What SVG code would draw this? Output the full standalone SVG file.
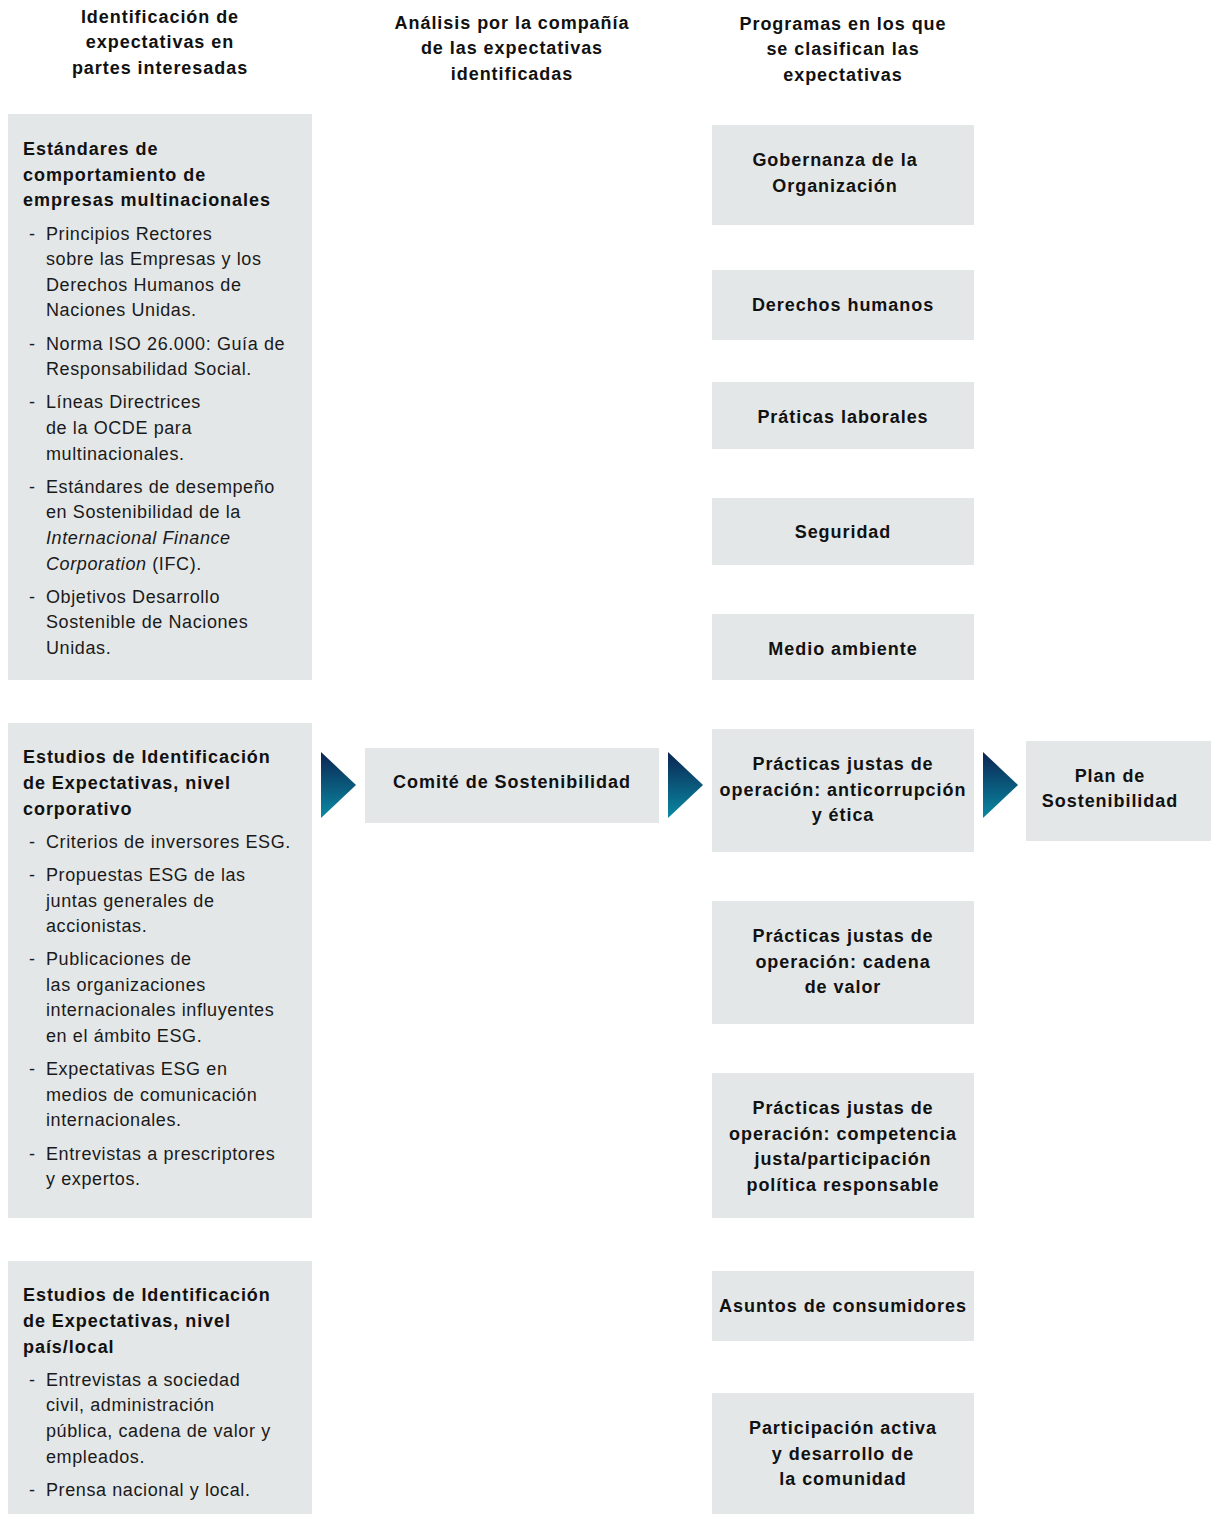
<svg xmlns="http://www.w3.org/2000/svg" width="1211" height="1514" viewBox="0 0 1211 1514">
<defs>
<linearGradient id="g" x1="0" y1="0" x2="0" y2="1">
<stop offset="0" stop-color="#0b2452"/>
<stop offset="1" stop-color="#0a8aa3"/>
</linearGradient>
<style>
.box{fill:#e4e7e8}
.h{font-family:"Liberation Sans",Arial,sans-serif;font-weight:bold;font-size:18px;letter-spacing:0.95px;fill:#111}
.c{text-anchor:middle}
.t{font-family:"Liberation Sans",Arial,sans-serif;font-size:18px;letter-spacing:0.6px;fill:#1a1a1a}
</style>
</defs>
<rect width="1211" height="1514" fill="#fff"/>

<g id="headers">
<text class="h c" x="160" y="23">Identificación de</text>
<text class="h c" x="160" y="48">expectativas en</text>
<text class="h c" x="160" y="74">partes interesadas</text>
<text class="h c" x="512" y="29">Análisis por la compañía</text>
<text class="h c" x="512" y="54">de las expectativas</text>
<text class="h c" x="512" y="80">identificadas</text>
<text class="h c" x="843" y="30">Programas en los que</text>
<text class="h c" x="843" y="55">se clasifican las</text>
<text class="h c" x="843" y="81">expectativas</text>
</g>

<g id="estandares">
<rect class="box" x="8" y="114" width="304" height="566"/>
<text class="h" x="23" y="155">Estándares de</text>
<text class="h" x="23" y="181">comportamiento de</text>
<text class="h" x="23" y="206">empresas multinacionales</text>
<g class="t">
<text x="29" y="240">-</text><text x="46" y="240">Principios Rectores</text>
<text x="46" y="265">sobre las Empresas y los</text>
<text x="46" y="291">Derechos Humanos de</text>
<text x="46" y="316">Naciones Unidas.</text>
<text x="29" y="350">-</text><text x="46" y="350">Norma ISO 26.000: Guía de</text>
<text x="46" y="375">Responsabilidad Social.</text>
<text x="29" y="408">-</text><text x="46" y="408">Líneas Directrices</text>
<text x="46" y="434">de la OCDE para</text>
<text x="46" y="460">multinacionales.</text>
<text x="29" y="493">-</text><text x="46" y="493">Estándares de desempeño</text>
<text x="46" y="518">en Sostenibilidad de la</text>
<text x="46" y="544" font-style="italic">Internacional Finance</text>
<text x="46" y="570"><tspan font-style="italic">Corporation</tspan> (IFC).</text>
<text x="29" y="603">-</text><text x="46" y="603">Objetivos Desarrollo</text>
<text x="46" y="628">Sostenible de Naciones</text>
<text x="46" y="654">Unidas.</text>
</g>
</g>

<g id="corporativo">
<rect class="box" x="8" y="723" width="304" height="495"/>
<text class="h" x="23" y="763">Estudios de Identificación</text>
<text class="h" x="23" y="789">de Expectativas, nivel</text>
<text class="h" x="23" y="815">corporativo</text>
<g class="t">
<text x="29" y="848">-</text><text x="46" y="848">Criterios de inversores ESG.</text>
<text x="29" y="881">-</text><text x="46" y="881">Propuestas ESG de las</text>
<text x="46" y="907">juntas generales de</text>
<text x="46" y="932">accionistas.</text>
<text x="29" y="965">-</text><text x="46" y="965">Publicaciones de</text>
<text x="46" y="991">las organizaciones</text>
<text x="46" y="1016">internacionales influyentes</text>
<text x="46" y="1042">en el ámbito ESG.</text>
<text x="29" y="1075">-</text><text x="46" y="1075">Expectativas ESG en</text>
<text x="46" y="1101">medios de comunicación</text>
<text x="46" y="1126">internacionales.</text>
<text x="29" y="1160">-</text><text x="46" y="1160">Entrevistas a prescriptores</text>
<text x="46" y="1185">y expertos.</text>
</g>
</g>

<g id="local">
<rect class="box" x="8" y="1261" width="304" height="253"/>
<text class="h" x="23" y="1301">Estudios de Identificación</text>
<text class="h" x="23" y="1327">de Expectativas, nivel</text>
<text class="h" x="23" y="1353">país/local</text>
<g class="t">
<text x="29" y="1386">-</text><text x="46" y="1386">Entrevistas a sociedad</text>
<text x="46" y="1411">civil, administración</text>
<text x="46" y="1437">pública, cadena de valor y</text>
<text x="46" y="1463">empleados.</text>
<text x="29" y="1496">-</text><text x="46" y="1496">Prensa nacional y local.</text>
</g>
</g>

<g id="comite">
<rect class="box" x="365" y="748" width="294" height="75"/>
<text class="h c" x="512" y="788">Comité de Sostenibilidad</text>
</g>

<g id="gobernanza">
<rect class="box" x="712" y="125" width="262" height="100"/>
<text class="h c" x="835" y="166">Gobernanza de la</text>
<text class="h c" x="835" y="192">Organización</text>
</g>
<g id="derechos">
<rect class="box" x="712" y="270" width="262" height="70"/>
<text class="h c" x="843" y="311">Derechos humanos</text>
</g>
<g id="laborales">
<rect class="box" x="712" y="382" width="262" height="67"/>
<text class="h c" x="843" y="423">Práticas laborales</text>
</g>
<g id="seguridad">
<rect class="box" x="712" y="498" width="262" height="67"/>
<text class="h c" x="843" y="538">Seguridad</text>
</g>
<g id="medio">
<rect class="box" x="712" y="614" width="262" height="66"/>
<text class="h c" x="843" y="655">Medio ambiente</text>
</g>
<g id="anticorrupcion">
<rect class="box" x="712" y="729" width="262" height="123"/>
<text class="h c" x="843" y="770">Prácticas justas de</text>
<text class="h c" x="843" y="796">operación: anticorrupción</text>
<text class="h c" x="843" y="821">y ética</text>
</g>
<g id="cadena">
<rect class="box" x="712" y="901" width="262" height="123"/>
<text class="h c" x="843" y="942">Prácticas justas de</text>
<text class="h c" x="843" y="968">operación: cadena</text>
<text class="h c" x="843" y="993">de valor</text>
</g>
<g id="competencia">
<rect class="box" x="712" y="1073" width="262" height="145"/>
<text class="h c" x="843" y="1114">Prácticas justas de</text>
<text class="h c" x="843" y="1140">operación: competencia</text>
<text class="h c" x="843" y="1165">justa/participación</text>
<text class="h c" x="843" y="1191">política responsable</text>
</g>
<g id="consumidores">
<rect class="box" x="712" y="1271" width="262" height="70"/>
<text class="h c" x="843" y="1312">Asuntos de consumidores</text>
</g>
<g id="comunidad">
<rect class="box" x="712" y="1393" width="262" height="121"/>
<text class="h c" x="843" y="1434">Participación activa</text>
<text class="h c" x="843" y="1460">y desarrollo de</text>
<text class="h c" x="843" y="1485">la comunidad</text>
</g>

<g id="plan">
<rect class="box" x="1026" y="741" width="185" height="100"/>
<text class="h c" x="1110" y="782">Plan de</text>
<text class="h c" x="1110" y="807">Sostenibilidad</text>
</g>

<g id="connectors">
<polygon points="321,752 356,785 321,818" fill="url(#g)"/>
<polygon points="668,752 703,785 668,818" fill="url(#g)"/>
<polygon points="983,752 1018,785 983,818" fill="url(#g)"/>
</g>
</svg>
